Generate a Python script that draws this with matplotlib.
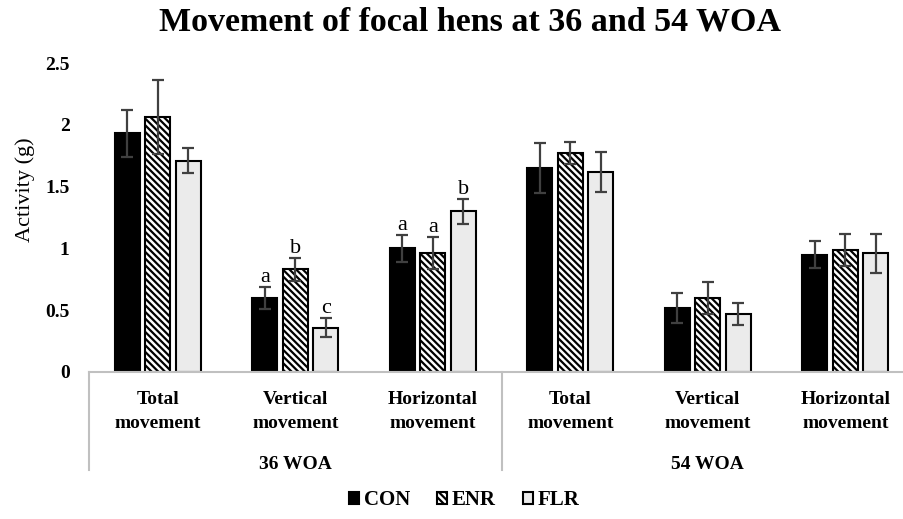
import matplotlib.pyplot as plt
import numpy as np

# data
categories = ["Total\nmovement", "Vertical\nmovement", "Horizontal\nmovement",
              "Total\nmovement", "Vertical\nmovement", "Horizontal\nmovement"]
groups = ["36 WOA", "54 WOA"]
con = [1.93, 0.60, 1.00, 1.65, 0.52, 0.95]
con_err = [0.19, 0.09, 0.11, 0.20, 0.12, 0.11]
enr = [2.06, 0.83, 0.96, 1.77, 0.60, 0.99]
enr_err = [0.30, 0.09, 0.13, 0.09, 0.13, 0.13]
flr = [1.71, 0.36, 1.30, 1.62, 0.47, 0.96]
flr_err = [0.10, 0.08, 0.10, 0.16, 0.09, 0.16]
# significance letters (category index -> letters for CON, ENR, FLR)
letters = {1: ["a", "b", "c"], 2: ["a", "a", "b"]}

plt.rcParams["font.family"] = ["Liberation Serif", "DejaVu Serif"]
plt.rcParams["hatch.linewidth"] = 1.6

fig = plt.figure(figsize=(9.04, 5.19), dpi=100)
ax = fig.add_axes([89 / 904, 1 - 372 / 519, 825 / 904, 309 / 519])

x = np.arange(len(categories))
w = 0.182
pitch = 0.222
series = [
    ("CON", con, con_err, dict(color="black", edgecolor="black")),
    ("ENR", enr, enr_err, dict(color="white", edgecolor="black", hatch="\\" * 5)),
    ("FLR", flr, flr_err, dict(color="#ebebeb", edgecolor="black")),
]
for i, (name, vals, errs, style) in enumerate(series):
    xs = x + (i - 1) * pitch
    ax.bar(xs, vals, width=w, linewidth=1.5, label=name, zorder=2, **style)
    ax.errorbar(xs, vals, yerr=errs, fmt="none", ecolor="#404040",
                elinewidth=1.6, capsize=4.5, capthick=1.6, zorder=3)
    for c, lets in letters.items():
        ax.annotate(lets[i], (xs[c], vals[c] + errs[c]), xytext=(0, 0),
                    textcoords="offset points", ha="center", va="bottom",
                    fontsize=16)

ax.set_xlim(-0.5, 5.5)
ax.set_ylim(0, 2.5)
ax.set_yticks([0, 0.5, 1, 1.5, 2, 2.5])
ax.set_yticklabels(["0", "0.5", "1", "1.5", "2", "2.5"], fontweight="bold",
                   fontsize=14)
ax.tick_params(axis="y", length=0, pad=14)
ax.tick_params(axis="x", length=0, pad=14)
ax.set_xticks(x)
ax.set_xticklabels(categories, fontweight="bold", fontsize=14,
                   linespacing=1.5)
for s in ["top", "right", "left"]:
    ax.spines[s].set_visible(False)
ax.spines["bottom"].set_color("#c0c0c0")
ax.spines["bottom"].set_linewidth(1.5)

# group separators and group labels
for xv in [-0.5, 2.5, 5.5]:
    ax.plot([xv, xv], [0, -0.317], transform=ax.get_xaxis_transform(),
            color="#c0c0c0", lw=1.5, clip_on=False)
for gi, g in enumerate(groups):
    ax.text(1 + 3 * gi, -0.3, g, transform=ax.get_xaxis_transform(),
            ha="center", va="center", fontweight="bold", fontsize=14)

fig.text(470 / 904, 1 - 22 / 519, "Movement of focal hens at 36 and 54 WOA",
         ha="center", va="center", fontweight="bold", fontsize=24.5)
fig.text(25 / 904, 1 - 190 / 519, "Activity (g)", rotation=90,
         ha="center", va="center", fontsize=16)

fig.legend(loc="center", bbox_to_anchor=(464 / 904, 1 - 500 / 519), ncol=3,
           frameon=False, handlelength=0.5, handleheight=0.5,
           handletextpad=0.2, columnspacing=1.3,
           prop=dict(weight="bold", size=15))

fig.savefig("out.png", dpi=100)
